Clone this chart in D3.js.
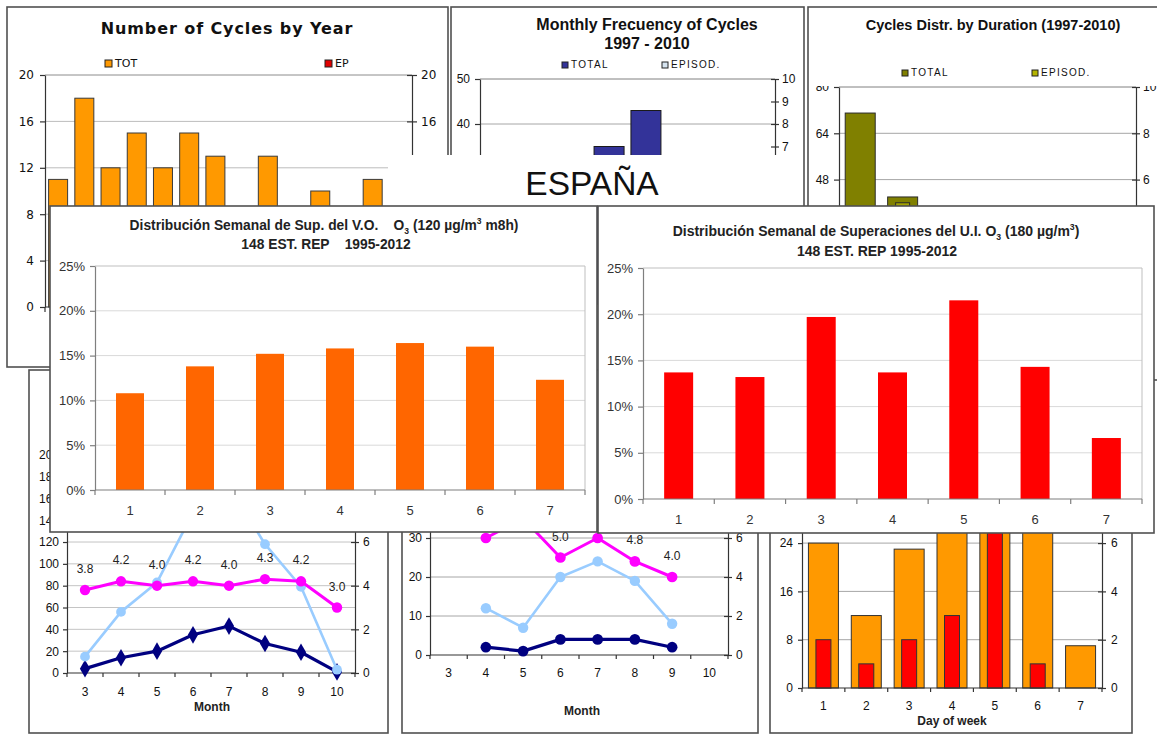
<!DOCTYPE html>
<html>
<head>
<meta charset="utf-8">
<title>Ciclos de ozono — España</title>
<script src="https://cdn.jsdelivr.net/npm/d3@7/dist/d3.min.js"></script>
<style>
  html, body { margin: 0; padding: 0; background: #fff; }
  svg { display: block; }
</style>
</head>
<body>
<svg id="chart" width="1157" height="734"></svg>
<script>
// ---- cycles per year (1997-2010) ----
const cycleYears = ["1997","1998","1999","2000","2001","2002","2003","2004","2005","2006","2007","2008","2009","2010"];
const cyclesTot  = [11, 18, 12, 15, 12, 15, 13, 8, 13, 7, 10, 8, 11, 10];
const cyclesEp   = [2, 3, 1, 2, 1, 2, 1, 0, 2, 0, 1, 0, 1, 1];
const yearTicksL = [0, 4, 8, 12, 16, 20];
const yearTicksR = [16, 20];

// ---- monthly figures (months 3-10) ----
const months          = [3, 4, 5, 6, 7, 8, 9, 10];
const monthCycles     = [4, 14, 20, 35, 43, 27, 19, 1];
const monthCycleDays  = [15, 56, 83, 147, 172, 118, 79, 3];
const monthCycleDur   = [3.8, 4.2, 4.0, 4.2, 4.0, 4.3, 4.2, 3.0];
const monthEpisodes   = [null, 2, 1, 4, 4, 4, 2, null];
const monthEpDays     = [null, 12, 7, 20, 24, 19, 8, null];
const monthEpDur      = [null, 6.0, 7.0, 5.0, 6.0, 4.8, 4.0, null];
const monthTicksL     = [40, 50];
const monthTicksR     = [7, 8, 9, 10];
const dayCountTicks   = [0, 20, 40, 60, 80, 100, 120, 140, 160, 180, 200];
const durTicksR       = [0, 2, 4, 6];
const epCountTicks    = [0, 10, 20, 30];
const epDurTicks      = [0, 2, 4, 6];

// ---- cycles by duration ----
const durClasses = [1, 2, 3, 4, 5, 6, 7];
const durTotal   = [71, 42, 24, 13, 7, 4, 2];
const durEpisod  = [3, 5, 4, 2, 1, 1, 1];
const durTicksL  = [48, 64, 80];
const durTicksR2 = [6, 8, 10];

// ---- weekly distribution of exceedances (%) ----
const weekDays  = [1, 2, 3, 4, 5, 6, 7];
const weekVO    = [10.8, 13.8, 15.2, 15.8, 16.4, 16.0, 12.3];
const weekUI    = [13.7, 13.2, 19.7, 13.7, 21.5, 14.3, 6.6];
const pctTicks  = [0, 5, 10, 15, 20, 25];

// ---- cycles by day of week ----
const dayCycles   = [24, 12, 23, 32, 34, 31, 7];
const dayEpisodes = [2, 1, 2, 3, 8, 1, 0];
const dayTicksL   = [0, 8, 16, 24];
const dayTicksR   = [0, 2, 4, 6];

const svg  = d3.select("#chart");
const SANS = "'Liberation Sans', Arial, sans-serif";
const VERD = "'DejaVu Sans', Verdana, sans-serif";

function frame(x0, y0, x1, y1) {
  svg.append("rect").attr("x", x0).attr("y", y0)
    .attr("width", x1 - x0).attr("height", y1 - y0)
    .attr("fill", "#fff").attr("stroke", "#505050").attr("stroke-width", 1.6);
}

function label(x, y, s, o = {}) {
  return svg.append("text").attr("x", x).attr("y", y)
    .attr("text-anchor", o.anchor || "middle")
    .attr("font-family", o.font || SANS)
    .attr("font-size", o.size || 12)
    .attr("font-weight", o.weight || "normal")
    .attr("letter-spacing", o.spacing || 0)
    .attr("fill", o.color || "#111")
    .style("white-space", "pre")
    .text(s);
}

function richTitle(x, y, parts, size) {
  const t = svg.append("text").attr("x", x).attr("y", y)
    .attr("text-anchor", "middle").attr("font-family", SANS)
    .attr("font-weight", "bold").attr("font-size", size).attr("fill", "#222")
    .attr("xml:space", "preserve").style("white-space", "pre");
  let off = 0;
  parts.forEach(([s, m]) => {
    const target = m === "sub" ? size * 0.3 : m === "sup" ? -size * 0.4 : 0;
    t.append("tspan").attr("dy", target - off)
      .attr("font-size", m ? size * 0.62 : size).text(s);
    off = target;
  });
}

function band(domain, r0, r1, bw) {
  const step = (r1 - r0) / domain.length;
  const p = 1 - bw / step;
  return d3.scaleBand().domain(domain).range([r0, r1]).paddingInner(p).paddingOuter(p / 2);
}

function grid(y, values, x0, x1, color) {
  svg.append("g").selectAll("line").data(values).join("line")
    .attr("x1", x0).attr("x2", x1)
    .attr("y1", d => y(d)).attr("y2", d => y(d))
    .attr("stroke", color).attr("stroke-width", 1);
}

function valueAxis(scale, x, ticks, o = {}) {
  const side = o.side || "left";
  const len = o.len ?? 5;
  const ax = (side === "left" ? d3.axisLeft(scale) : d3.axisRight(scale))
    .tickValues(ticks).tickFormat(o.fmt || (d => d))
    .tickSizeInner(len).tickSizeOuter(0).tickPadding(o.pad ?? 4);
  const g = svg.append("g").attr("transform", `translate(${x},0)`).call(ax);
  g.select(".domain").attr("stroke", o.line || "#333").attr("stroke-width", o.lw || 1.2);
  g.selectAll(".tick line").attr("stroke", o.line || "#333").attr("stroke-width", o.lw || 1.2);
  if (o.cross) g.selectAll(".tick line").attr("x1", side === "left" ? len : -len);
  g.selectAll(".tick text").attr("font-family", o.font || SANS)
    .attr("font-size", o.size || 12).attr("fill", o.color || "#111");
  return g;
}

function categoryAxis(xs, y, o = {}) {
  const [r0, r1] = xs.range();
  const n = xs.domain().length;
  const g = svg.append("g");
  const stroke = o.line || "#333";
  g.append("line").attr("x1", r0).attr("x2", r1).attr("y1", y).attr("y2", y)
    .attr("stroke", stroke).attr("stroke-width", o.lw || 1.2);
  g.selectAll("line.tk").data(d3.range(n + 1)).join("line").attr("class", "tk")
    .attr("x1", k => r0 + k * xs.step()).attr("x2", k => r0 + k * xs.step())
    .attr("y1", y).attr("y2", y + (o.len ?? 5))
    .attr("stroke", stroke).attr("stroke-width", o.lw || 1.2);
  if (o.labelY) {
    g.selectAll("text").data(xs.domain()).join("text")
      .attr("x", d => xs(d) + xs.bandwidth() / 2).attr("y", o.labelY)
      .attr("text-anchor", "middle").attr("font-family", o.font || SANS)
      .attr("font-size", o.size || 12).attr("fill", o.color || "#111")
      .text(d => d);
  }
}

function bars(xs, y, data, o) {
  const inset = (xs.bandwidth() - (o.width || xs.bandwidth())) / 2;
  svg.append("g").selectAll("rect").data(data.filter(d => d.v != null && d.v > 0)).join("rect")
    .attr("x", d => xs(d.k) + inset)
    .attr("y", d => y(d.v))
    .attr("width", o.width || xs.bandwidth())
    .attr("height", d => y(0) - y(d.v))
    .attr("fill", o.fill)
    .attr("stroke", o.stroke || "none")
    .attr("stroke-width", o.sw || 1);
}

function legendKey(x, y, fill, text, o = {}) {
  svg.append("rect").attr("x", x).attr("y", y).attr("width", o.box || 7).attr("height", o.box || 7)
    .attr("fill", fill).attr("stroke", "#222").attr("stroke-width", 1);
  label(x + (o.box || 7) + 3, y + (o.box || 7), text,
    { anchor: "start", size: o.size || 12, font: o.font || SANS, spacing: o.spacing || 0, color: "#111" });
}

function series(xs, y, vals, o) {
  const cx = d => xs(d.k) + xs.bandwidth() / 2;
  const pts = vals.filter(d => d.v != null);
  svg.append("path").datum(pts)
    .attr("d", d3.line().x(cx).y(d => y(d.v)))
    .attr("fill", "none").attr("stroke", o.color).attr("stroke-width", o.width || 3)
    .attr("stroke-linejoin", "round");
  const sym = d3.symbol().type(o.symbol || d3.symbolCircle).size(o.size || 80);
  svg.append("g").selectAll("path").data(pts).join("path")
    .attr("transform", d => `translate(${cx(d)},${y(d.v)})`)
    .attr("d", sym).attr("fill", o.color);
  if (o.labels) {
    // value labels only where the plot area is in view (below the covering panels)
    const shown = pts.filter(d => y(d.v) - 17 > (o.labelTop || 0));
    svg.append("g").selectAll("text").data(shown).join("text")
      .attr("x", cx).attr("y", d => y(d.v) - 17)
      .attr("text-anchor", "middle").attr("font-family", SANS).attr("font-size", 12)
      .attr("fill", "#222").text(d => d.v.toFixed(1));
  }
}

const zip = (keys, vals) => keys.map((k, i) => ({ k, v: vals[i] }));

// ================= Number of Cycles by Year =================
frame(7, 7, 448, 367);
{
  const xs = band(cycleYears, 45, 412, 19);
  const y = d3.scaleLinear().domain([0, 20]).range([307, 75]);
  grid(y, [4, 8, 12, 16], 45, 412, "#bcbcbc");
  grid(y, [20], 45, 412, "#8c8c8c");
  bars(xs, y, zip(cycleYears, cyclesTot), { fill: "#ff9900", stroke: "#3a3a3a" });
  bars(xs, y, zip(cycleYears, cyclesEp), { fill: "#e00000", stroke: "#3a3a3a", width: 9 });
  valueAxis(y, 45, yearTicksL, { font: VERD, size: 12, pad: 6, len: 5 });
  valueAxis(y, 412, yearTicksR, { side: "right", cross: true, font: VERD, size: 12, pad: 4, len: 5 });
  categoryAxis(xs, 307, {});
  label(227, 34, "Number of Cycles by Year", { font: VERD, size: 16, weight: "bold", color: "#111", spacing: 0.9 });
  legendKey(105, 60, "#ff9900", "TOT", { font: VERD, size: 11 });
  legendKey(325, 60, "#e00000", "EP", { font: VERD, size: 11 });
}

// ================= Monthly Frecuency of Cycles =================
frame(451, 7, 804, 380);
{
  const xs = band(months, 480, 775, 30);
  const y = d3.scaleLinear().domain([0, 50]).range([304, 79]);
  const y2 = d3.scaleLinear().domain([0, 10]).range([304, 79]);
  grid(y, [10, 20, 30, 40], 480, 775, "#a6a6a6");
  grid(y, [50], 480, 775, "#808080");
  bars(xs, y, zip(months, monthCycles), { fill: "#333399", stroke: "#1a1a1a" });
  bars(xs, y2, zip(months, monthEpisodes), { fill: "#d6e4f0", stroke: "#222", width: 14 });
  valueAxis(y, 480, monthTicksL, { size: 12, pad: 5, len: 5 });
  valueAxis(y2, 775, monthTicksR, { side: "right", cross: true, size: 12, pad: 3, len: 4 });
  categoryAxis(xs, 304, {});
  label(647, 30, "Monthly Frecuency of Cycles", { size: 16, weight: "bold", color: "#111" });
  label(647, 49, "1997 - 2010", { size: 16, weight: "bold", color: "#111" });
  legendKey(562, 62, "#333399", "TOTAL", { box: 6, size: 10, spacing: 1.3 });
  legendKey(662, 62, "#d6e4f0", "EPISOD.", { box: 6, size: 10, spacing: 1.3 });
}

// ================= Cycles Distr. by Duration =================
frame(808, 7, 1175, 380);
{
  const xs = band(durClasses, 839, 1136, 30);
  const y = d3.scaleLinear().domain([0, 80]).range([318.5, 87]);
  const y2 = d3.scaleLinear().domain([0, 10]).range([318.5, 87]);
  grid(y, [16, 32, 48, 64], 839, 1136, "#a6a6a6");
  grid(y, [80], 839, 1136, "#808080");
  bars(xs, y, zip(durClasses, durTotal), { fill: "#808000", stroke: "#2a2a2a" });
  bars(xs, y2, zip(durClasses, durEpisod), { fill: "#a3a300", stroke: "#2a2a2a", width: 14 });
  valueAxis(y, 839, durTicksL, { size: 12, pad: 5, len: 5 });
  valueAxis(y2, 1136, durTicksR2, { side: "right", cross: true, size: 12, pad: 3, len: 4 });
  categoryAxis(xs, 318.5, {});
  // legend area sits over the top of the axis labels
  svg.append("rect").attr("x", 811).attr("y", 58).attr("width", 346).attr("height", 28).attr("fill", "#fff");
  label(993, 30, "Cycles Distr. by Duration (1997-2010)", { size: 14.5, weight: "bold", color: "#111" });
  legendKey(902, 70, "#808000", "TOTAL", { box: 6, size: 10, spacing: 1.3 });
  legendKey(1032, 70, "#b5b500", "EPISOD.", { box: 6, size: 10, spacing: 1.3 });
}

// ================= monthly cycles: count, days, mean duration =================
frame(29, 370, 388, 733);
{
  const xs = band(months, 67, 355, 24);
  const y = d3.scaleLinear().domain([0, 200]).range([673, 454.7]);
  const y2 = d3.scaleLinear().domain([0, 10]).range([673, 454.7]);
  grid(y, dayCountTicks.slice(1), 67, 355, "#c4c4c4");
  valueAxis(y, 67, dayCountTicks, { size: 12, pad: 4, len: 4 });
  valueAxis(y2, 355, durTicksR, { side: "right", cross: true, size: 12, pad: 4, len: 4 });
  categoryAxis(xs, 673, { labelY: 696, len: 4 });
  label(212, 711, "Month", { size: 12, weight: "bold", color: "#222" });
  series(xs, y, zip(months, monthCycles), { color: "#000080", width: 3.2, symbol: d3.symbolDiamond, size: 90 });
  series(xs, y, zip(months, monthCycleDays), { color: "#99ccff", width: 2.6, size: 75 });
  series(xs, y2, zip(months, monthCycleDur), { color: "#ff00ff", width: 3, size: 85, labels: true, labelTop: 532 });
}

// ================= monthly episodes: count, days, mean duration =================
frame(402, 370, 758, 733);
{
  const xs = band(months, 430, 728, 25);
  const y = d3.scaleLinear().domain([0, 40]).range([655, 499]);
  const y2 = d3.scaleLinear().domain([0, 8]).range([655, 499]);
  grid(y, [10, 20, 30, 40], 430, 728, "#a6a6a6");
  valueAxis(y, 430, epCountTicks, { size: 12, pad: 4, len: 4 });
  valueAxis(y2, 728, epDurTicks, { side: "right", cross: true, size: 12, pad: 4, len: 4 });
  categoryAxis(xs, 655, { labelY: 677, len: 4 });
  label(582, 715, "Month", { size: 12, weight: "bold", color: "#222" });
  series(xs, y, zip(months, monthEpisodes), { color: "#000080", width: 3.2, size: 90 });
  series(xs, y, zip(months, monthEpDays), { color: "#99ccff", width: 2.6, size: 85 });
  series(xs, y2, zip(months, monthEpDur), { color: "#ff00ff", width: 3, size: 90, labels: true, labelTop: 532 });
}

// ================= cycles by day of week =================
frame(770, 370, 1132, 733);
{
  const xs = band(weekDays, 802, 1102, 30);
  const y = d3.scaleLinear().domain([0, 40]).range([688, 446.5]);
  const y2 = d3.scaleLinear().domain([0, 10]).range([688, 446.5]);
  grid(y, [8, 16, 24, 32, 40], 802, 1102, "#a6a6a6");
  bars(xs, y, zip(weekDays, dayCycles), { fill: "#ff9900", stroke: "#333" });
  bars(xs, y2, zip(weekDays, dayEpisodes), { fill: "#ff0000", stroke: "#333", width: 15 });
  valueAxis(y, 802, dayTicksL, { size: 12, pad: 5, len: 4 });
  valueAxis(y2, 1102, dayTicksR, { side: "right", cross: true, size: 12, pad: 5, len: 4 });
  categoryAxis(xs, 688, { labelY: 710, len: 4 });
  label(952, 725, "Day of week", { size: 12, weight: "bold", color: "#222" });
}

// ================= title strip =================
svg.append("rect").attr("x", 388).attr("y", 155).attr("width", 414).attr("height", 51).attr("fill", "#fff");
label(592, 195, "ESPAÑA", { size: 33.5, color: "#111" });

// ================= weekly distribution, V.O. 120 =================
frame(50, 206, 597, 532);
{
  const xs = band(weekDays, 95, 585, 28);
  const y = d3.scaleLinear().domain([0, 25]).range([490, 266]);
  grid(y, [5, 10, 15, 20], 95, 585, "#d9d9d9");
  grid(y, [25], 95, 585, "#bfbfbf");
  svg.append("line").attr("x1", 585).attr("x2", 585).attr("y1", 266).attr("y2", 490).attr("stroke", "#bfbfbf");
  bars(xs, y, zip(weekDays, weekVO), { fill: "#ff6600" });
  valueAxis(y, 95, pctTicks, { fmt: d => d + "%", size: 13, pad: 5, len: 5, line: "#7f7f7f", color: "#333" });
  categoryAxis(xs, 490, { labelY: 515, size: 13, line: "#7f7f7f", color: "#333" });
  richTitle(324, 230, [["Distribución Semanal de Sup. del V.O.    O", ""], ["3", "sub"], [" (120 µg/m", ""], ["3", "sup"], [" m8h)", ""]], 13.8);
  richTitle(326, 249, [["148 EST. REP    1995-2012", ""]], 13.8);
}

// ================= weekly distribution, U.I. 180 =================
frame(598, 206, 1154, 533);
{
  const xs = band(weekDays, 643, 1142, 29);
  const y = d3.scaleLinear().domain([0, 25]).range([499, 268]);
  grid(y, [5, 10, 15, 20], 643, 1142, "#d9d9d9");
  grid(y, [25], 643, 1142, "#bfbfbf");
  svg.append("line").attr("x1", 1142).attr("x2", 1142).attr("y1", 268).attr("y2", 499).attr("stroke", "#bfbfbf");
  bars(xs, y, zip(weekDays, weekUI), { fill: "#ff0000" });
  valueAxis(y, 643, pctTicks, { fmt: d => d + "%", size: 13, pad: 5, len: 5, line: "#7f7f7f", color: "#333" });
  categoryAxis(xs, 499, { labelY: 524, size: 13, line: "#7f7f7f", color: "#333" });
  richTitle(876, 236, [["Distribución Semanal de Superaciones del U.I. O", ""], ["3", "sub"], [" (180 µg/m", ""], ["3", "sup"], [")", ""]], 14);
  richTitle(877, 256, [["148 EST. REP 1995-2012", ""]], 14);
}
</script>
</body>
</html>
